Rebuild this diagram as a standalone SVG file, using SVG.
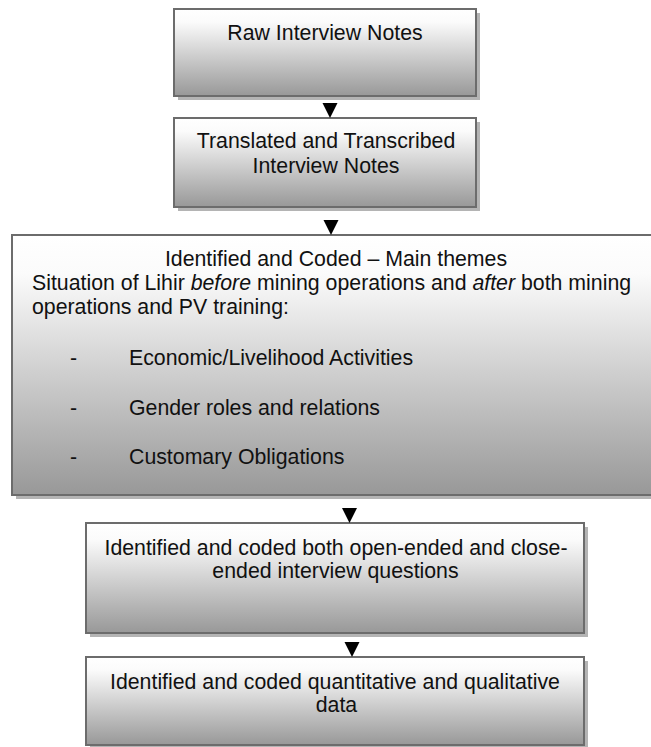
<svg xmlns="http://www.w3.org/2000/svg" width="651" height="747" viewBox="0 0 651 747">
<defs>
<linearGradient id="g" x1="0" y1="0" x2="0" y2="1">
<stop offset="0" stop-color="#ffffff"/>
<stop offset="0.15" stop-color="#fbfbfb"/>
<stop offset="1" stop-color="#989898"/>
</linearGradient>
<style>
.box{fill:url(#g);stroke:#6c6c6c;stroke-width:2}
.sh{fill:#b4b4b4}
text{font-family:"Liberation Sans",Arial,sans-serif;font-size:21.3px;fill:#111}
.c{text-anchor:middle}
.arr{fill:#000}
</style>
</defs>
<rect width="651" height="747" fill="#ffffff"/>
<g id="node-raw">
<rect class="sh" x="178" y="13" width="302" height="87"/>
<rect class="box" x="174" y="9" width="302" height="87"/>
<text class="c" x="325" y="40">Raw Interview Notes</text>
</g>
<g id="node-translated">
<rect class="sh" x="178" y="122" width="302" height="89"/>
<rect class="box" x="174" y="118" width="302" height="89"/>
<text class="c" x="326" y="148">Translated and Transcribed</text>
<text class="c" x="326" y="172.5">Interview Notes</text>
</g>
<g id="node-themes">
<rect class="sh" x="16" y="239" width="650" height="260"/>
<rect class="box" x="12" y="235" width="650" height="260"/>
<text class="c" x="336" y="266">Identified and Coded – Main themes</text>
<text x="32" y="290">Situation of Lihir <tspan font-style="italic">before</tspan> mining operations and <tspan font-style="italic">after</tspan> both mining</text>
<text x="32" y="313.5">operations and PV training:</text>
<text x="70" y="365">-</text>
<text x="129" y="365">Economic/Livelihood Activities</text>
<text x="70" y="414.5">-</text>
<text x="129" y="414.5">Gender roles and relations</text>
<text x="70" y="464">-</text>
<text x="129" y="464">Customary Obligations</text>
</g>
<g id="node-questions">
<rect class="sh" x="90" y="527" width="498" height="110"/>
<rect class="box" x="86" y="523" width="498" height="110"/>
<text class="c" x="336" y="555">Identified and coded both open-ended and close-</text>
<text class="c" x="335.5" y="577.5">ended interview questions</text>
</g>
<g id="node-data">
<rect class="sh" x="90" y="661" width="498" height="90"/>
<rect class="box" x="86" y="657" width="498" height="88"/>
<text class="c" x="335" y="689">Identified and coded quantitative and qualitative</text>
<text class="c" x="336.5" y="711.5">data</text>
</g>
<g id="connectors">
<polygon class="arr" points="322.5,103 337.5,103 330,118"/>
<polygon class="arr" points="323.5,220 338.5,220 331,235"/>
<polygon class="arr" points="342,508 357,508 349.5,523"/>
<polygon class="arr" points="344.5,642 359.5,642 352,657"/>
</g>
</svg>
